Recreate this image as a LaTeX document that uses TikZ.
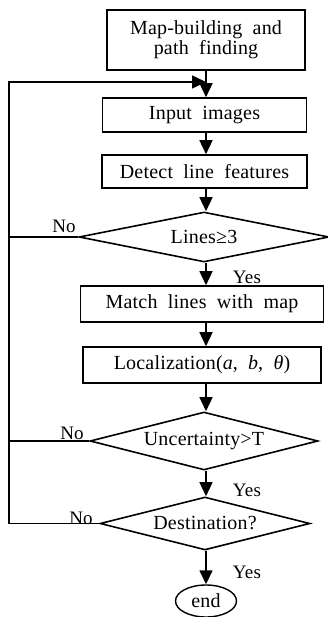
\documentclass[tikz,border=0pt]{standalone}
\usepackage{fontspec}
\setmainfont{Liberation Serif}[WordSpace=2,LetterSpace=1]
\usetikzlibrary{shapes.geometric,arrows.meta}
\begin{document}
\begin{tikzpicture}[x=1pt,y=1pt,
  every node/.style={font=\fontsize{20}{20}\selectfont},
  box/.style={draw,line width=1.6pt,rectangle,inner sep=0pt,align=center},
  dec/.style={draw,line width=1.6pt,diamond,aspect=4.5,inner sep=0pt},
  lbl/.style={inner sep=0pt,font=\fontsize{19}{19}\selectfont},
  conn/.style={line width=1.5pt},
  arr/.style={conn,-{Triangle[length=14pt,width=13pt]}}]
\useasboundingbox (0,0) rectangle (328,-617);
\node[box,minimum width=198pt,minimum height=60pt] (map) at (206,-40) {Map-building and\\path finding};
\node[box,minimum width=204pt,minimum height=34pt] (inp) at (204.5,-115) {Input images};
\node[box,minimum width=205pt,minimum height=33pt] (det) at (204.5,-171.5) {Detect line features};
\node[dec,minimum width=250pt,minimum height=50pt] (d1) at (204,-237) {Lines≥3};
\node[box,minimum width=243pt,minimum height=36pt] (mat) at (202,-304) {Match lines with map};
\node[box,minimum width=238pt,minimum height=36pt] (loc) at (202,-365) {Localization(\textit{a}, \textit{b}, \textit{θ})};
\node[dec,minimum width=228pt,minimum height=58pt] (d2) at (204,-441) {Uncertainty>T};
\node[dec,minimum width=210pt,minimum height=53pt] (d3) at (205,-523.5) {Destination?};
\node[draw,line width=1.4pt,ellipse,minimum width=61pt,minimum height=32pt,inner sep=0pt] (end) at (206,-601) {end};
\coordinate (lx) at (9,0);
\coordinate (join) at (206,-82);
\draw[arr] (map.south) -- (map.south |- inp.north);
\draw[arr] (inp.south -| map.south) -- (map.south |- det.north);
\draw[arr] (det.south -| map.south) -- (map.south |- d1.north);
\draw[arr] (d1.south -| map.south) -- (map.south |- mat.north);
\draw[arr] (mat.south -| map.south) -- (map.south |- loc.north);
\draw[arr] (loc.south -| map.south) -- (map.south |- d2.north);
\draw[arr] (d2.south -| map.south) -- (map.south |- d3.north);
\draw[arr] (d3.south -| map.south) -- (end.north);
\draw[arr] (d1.west) -- (d1.west -| lx) |- (join);
\draw[conn] (d2.west) -- (d2.west -| lx);
\draw[conn] (d3.west) -- (d3.west -| lx) -- (d1.west -| lx);
\node[lbl] (n1) at (64,-226) {No};
\node[lbl] (n2) at (72,-433) {No};
\node[lbl] (n3) at (81,-518) {No};
\node[lbl] (y1) at (247,-277) {Yes};
\node[lbl] (y2) at (247,-490) {Yes};
\node[lbl] (y3) at (247,-572) {Yes};
\end{tikzpicture}
\end{document}
